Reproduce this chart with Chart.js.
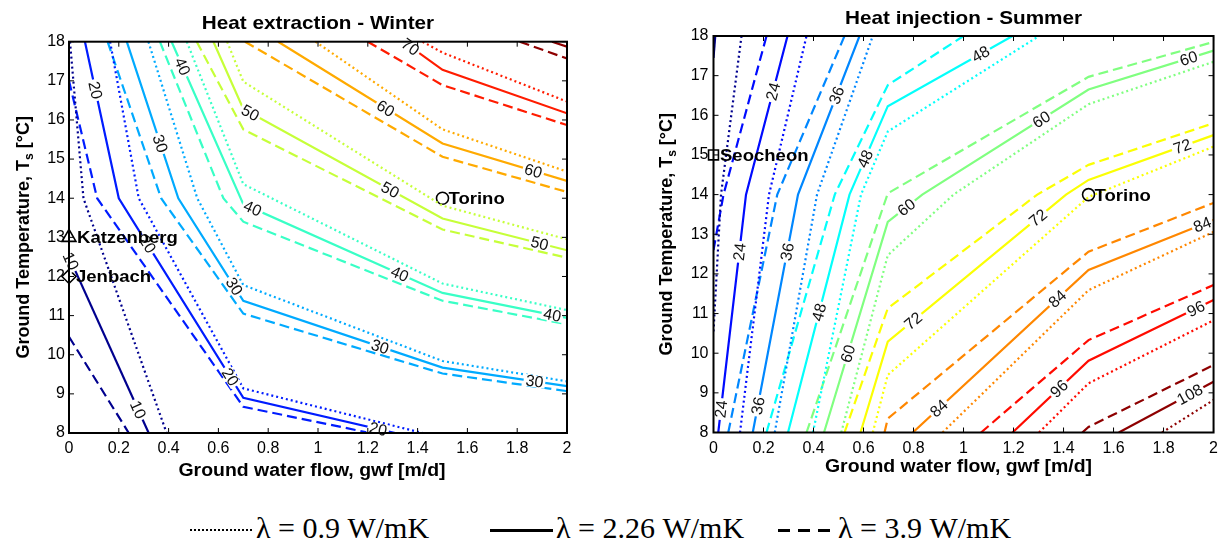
<!DOCTYPE html>
<html><head><meta charset="utf-8">
<script src="https://cdn.jsdelivr.net/npm/chart.js@4.4.0/dist/chart.umd.min.js"></script>
<style>
html,body{margin:0;padding:0;background:#fff;width:1224px;height:547px;overflow:hidden;}
#wrap{position:relative;width:1224px;height:547px;background:#fff;}
canvas{position:absolute;top:0;}
.leg{position:absolute;top:513px;font-family:"Liberation Serif","Times New Roman",serif;font-size:30px;line-height:30px;white-space:nowrap;color:#000;}
.smp{position:absolute;}
</style></head><body>
<div id="wrap">
<canvas id="cw" width="600" height="490" style="left:0px;width:600px;height:490px"></canvas>
<canvas id="cs" width="584" height="490" style="left:640px;width:584px;height:490px"></canvas>
<div class="smp" style="left:190px;top:529px;width:62px;height:0;border-top:2px dotted #000"></div>
<div class="leg" style="left:256px">λ = 0.9 W/mK</div>
<div class="smp" style="left:490px;top:529px;width:63px;height:3px;background:#000"></div>
<div class="leg" style="left:556px">λ = 2.26 W/mK</div>
<div class="smp" style="left:778px;top:529px;width:52px;height:3px;background:repeating-linear-gradient(90deg,#000 0 12px,transparent 12px 20px)"></div>
<div class="leg" style="left:838px">λ = 3.9 W/mK</div>
</div>
<script>
// ---------------- DATA ----------------
// shared ticks
const xTickValues = [0,0.2,0.4,0.6,0.8,1,1.2,1.4,1.6,1.8,2];
const yTickValues = [8,9,10,11,12,13,14,15,16,17,18];

// Winter (heat extraction) contour levels and polylines [gwf, Ts]
const winterLevels = [10,20,30,40,50,60,70,80];
const winterDotted = [ // lambda = 0.9 W/mK
  [[0.004,18],[0.058,14],[0.392,8]],
  [[0.165,18],[0.28,14],[0.7,9.14],[1.42,8]],
  [[0.319,18],[0.515,14],[0.7,11.78],[1.5,9.84],[2,9.32]],
  [[0.473,18],[0.7,14.36],[1.5,11.82],[2,11.14]],
  [[0.635,18],[0.7,16.98],[1.5,13.81],[2,12.95]],
  [[0.99,18],[1.5,15.76],[2,14.68]],
  [[1.42,18],[1.5,17.72],[2,16.47]],
  []
];
const winterSolid = [ // lambda = 2.26 W/mK
  [[0,12.5],[0.32,8]],
  [[0.064,18],[0.2,14],[0.7,8.9],[1.31,8]],
  [[0.232,18],[0.439,14],[0.7,11.38],[1.5,9.67],[2,9.2]],
  [[0.412,18],[0.7,13.85],[1.5,11.58],[2,10.94]],
  [[0.58,18],[0.7,16.28],[1.5,13.48],[2,12.67]],
  [[0.84,18],[1.5,15.4],[2,14.44]],
  [[1.343,18],[1.5,17.28],[2,16.17]],
  [[1.94,18],[2,17.87]]
];
const winterDashed = [ // lambda = 3.9 W/mK
  [[0,10.46],[0.24,8]],
  [[0,17.0],[0.113,14],[0.7,8.67],[1.21,8]],
  [[0.155,18],[0.37,14],[0.7,11.05],[1.5,9.52],[2,9.07]],
  [[0.365,18],[0.62,14],[0.7,13.4],[1.5,11.38],[2,10.78]],
  [[0.513,18],[0.7,15.76],[1.5,13.2],[2,12.48]],
  [[0.707,18],[1.5,15.06],[2,14.16]],
  [[1.2,18],[1.5,16.89],[2,15.87]],
  [[1.81,18],[2,17.57]]
];
const winterLabels = [ // [gwf, Ts, level]
  [0.017,12.42,10],[0.272,8.58,10],
  [0.106,16.76,20],[0.319,12.84,20],[0.647,9.43,20],[1.242,8.11,20],
  [0.367,15.4,30],[0.66,11.73,30],[1.249,10.2,30],[1.87,9.35,30],
  [0.452,17.36,40],[0.74,13.78,40],[1.329,12.08,40],[1.94,10.98,40],
  [0.727,16.17,50],[1.289,14.2,50],[1.89,12.85,50],
  [1.276,16.34,60],[1.865,14.7,60],
  [1.369,17.85,70]
];
const winterSiteNames = ["Katzenberg","Jenbach","Torino"];
const winterSiteGwf = [0,0,1.5];
const winterSiteTs = [13,12,14];

// Summer (heat injection)
const summerLevels = [12,24,36,48,60,72,84,96,108];
const summerDotted = [
  [[0,10.55],[0.03,14],[0.112,18]],
  [[0.106,8],[0.222,14],[0.372,18]],
  [[0.245,8],[0.414,14],[0.637,18]],
  [[0.398,8],[0.59,14],[0.697,15.59],[1.302,18]],
  [[0.511,8],[0.697,12.47],[0.96,14],[1.5,16.28],[2,17.35]],
  [[0.637,8],[0.697,9.45],[1.5,13.94],[2,15.21]],
  [[0.916,8],[1.5,11.59],[2,13.06]],
  [[1.302,8],[1.5,9.24],[2,10.83]],
  [[1.794,8],[2,8.82]]
];
const summerSolid = [
  [[0,17.45],[0.007,18]],
  [[0.019,8],[0.13,14],[0.296,18]],
  [[0.157,8],[0.338,14],[0.584,18]],
  [[0.298,8],[0.544,14],[0.697,16.23],[1.196,18]],
  [[0.442,8],[0.697,13.31],[0.835,14],[1.5,16.65],[2,17.63]],
  [[0.588,8],[0.697,10.29],[1.41,14],[1.5,14.37],[2,15.5]],
  [[0.797,8],[1.5,12.1],[2,13.36]],
  [[1.196,8],[1.5,9.81],[2,11.34]],
  [[1.621,8],[2,9.28]]
];
const summerDashed = [
  [],
  [[0,12.6],[0.04,14],[0.212,18]],
  [[0.059,8],[0.255,14],[0.524,18]],
  [[0.212,8],[0.485,14],[0.697,16.76],[1.0,18]],
  [[0.372,8],[0.697,14.03],[1.5,16.97],[2,17.85]],
  [[0.524,8],[0.697,11.13],[1.295,14],[1.5,14.75],[2,15.8]],
  [[0.684,8],[0.697,8.35],[1.5,12.56],[2,13.79]],
  [[1.07,8],[1.5,10.33],[2,11.72]],
  [[1.475,8],[1.5,8.14],[2,9.7]]
];
const summerLabels = [
  [0.238,16.6,24],[0.099,12.56,24],[0.019,8.6,24],
  [0.491,16.51,36],[0.292,12.56,36],[0.166,8.69,36],
  [0.604,14.91,48],[0.418,11.04,48],[1.063,17.6,48],
  [0.77,13.69,60],[1.309,15.92,60],[1.9,17.44,60],[0.538,9.99,60],
  [1.295,13.44,72],[1.873,15.25,72],[0.79,10.88,72],
  [0.89,8.69,84],[1.369,11.42,84],[1.947,13.37,84],
  [1.369,9.19,96],[1.927,11.15,96],
  [1.9,9.02,108]
];
const summerSiteNames = ["Seocheon","Torino"];
const summerSiteGwf = [0,1.5];
const summerSiteTs = [15,14];

// ---------------- STYLE ----------------
const SANS = '"Liberation Sans", Arial, Helvetica, sans-serif';
const siteStyle = {Katzenberg:['triangle',8,8], Jenbach:['rectRot',7,7], Torino:['circle',6,6], Seocheon:['rect',7,6.5]};
function jet(t){
  const c=v=>Math.round(255*Math.max(0,Math.min(1,v)));
  return `rgb(${c(1.5-Math.abs(4*t-3))},${c(1.5-Math.abs(4*t-2))},${c(1.5-Math.abs(4*t-1))})`;
}
function levelColor(i,n){ return jet(0.014 + 0.972*i/(n-1)); }

function buildDatasets(levels, dotted, solid, dashed, names, gx, ty){
  const ds=[];
  levels.forEach((L,i)=>{
    const col=levelColor(i,levels.length);
    [[dotted,[2,3]],[solid,[]],[dashed,[10,5]]].forEach(([arr,dash])=>{
      const pts=arr[i];
      if(!pts||!pts.length) return;
      ds.push({data:pts.map(p=>({x:p[0],y:p[1]})),borderColor:col,borderWidth:2.2,borderDash:dash,
        pointRadius:0,pointHoverRadius:0,fill:false,tension:0,showLine:true});
    });
  });
  ds.push({data:names.map((n,k)=>({x:gx[k],y:ty[k]})),showLine:false,clip:false,
    pointStyle:names.map(n=>siteStyle[n][0]),pointRadius:names.map(n=>siteStyle[n][1]),
    pointBorderColor:'#000',pointBackgroundColor:'rgba(0,0,0,0)',pointBorderWidth:1.6});
  return ds;
}

function sText(ctx,txt,x,y,font,sx,align){
  ctx.save(); ctx.font=font; ctx.translate(x,y); ctx.scale(sx,1);
  ctx.textAlign=align; ctx.textBaseline='alphabetic'; ctx.fillStyle='#000'; ctx.fillText(txt,0,0); ctx.restore();
}

const decor = {
  id:'decor',
  afterDatasetsDraw(chart,args,o){
    const {ctx,scales:{x,y}}=chart;
    o.labels.forEach(([g,T,L])=>{
      const i=o.levels.indexOf(L);
      const poly=o.solid[i].map(p=>[x.getPixelForValue(p[0]),y.getPixelForValue(p[1])]);
      const px=x.getPixelForValue(g), py=y.getPixelForValue(T);
      let best=null;
      for(let k=0;k<poly.length-1;k++){
        const [ax,ay]=poly[k],[bx,by]=poly[k+1];
        const dx=bx-ax,dy=by-ay,len2=dx*dx+dy*dy;
        let t=((px-ax)*dx+(py-ay)*dy)/len2; t=Math.max(0,Math.min(1,t));
        const qx=ax+t*dx,qy=ay+t*dy,d=(qx-px)**2+(qy-py)**2;
        if(!best||d<best.d) best={d,qx,qy,ang:Math.atan2(dy,dx)};
      }
      let a=best.ang; if(a>Math.PI/2)a-=Math.PI; if(a<-Math.PI/2)a+=Math.PI;
      ctx.save(); ctx.translate(best.qx,best.qy); ctx.rotate(a);
      ctx.font='16px '+SANS;
      const w=ctx.measureText(String(L)).width;
      ctx.fillStyle='#fff'; ctx.fillRect(-w/2-2,-6,w+4,12);
      ctx.fillStyle='#111'; ctx.textAlign='center'; ctx.textBaseline='middle'; ctx.fillText(String(L),0,1);
      ctx.restore();
    });
  },
  afterDraw(chart,args,o){
    const {ctx,chartArea:a,scales:{x,y}}=chart;
    ctx.save();
    ctx.strokeStyle='#000'; ctx.lineWidth=1;
    const ln=(x1,y1,x2,y2)=>{ctx.beginPath();ctx.moveTo(x1,y1);ctx.lineTo(x2,y2);ctx.stroke();};
    x.ticks.forEach(t=>{const p=x.getPixelForValue(t.value); ln(p,a.bottom,p,a.bottom-5); ln(p,a.top,p,a.top+5);});
    y.ticks.forEach(t=>{const p=y.getPixelForValue(t.value); ln(a.left,p,a.left+5,p); ln(a.right,p,a.right-5,p);});
    ctx.lineWidth=2; ctx.strokeRect(a.left,a.top,a.right-a.left,a.bottom-a.top);
    ctx.restore();
    const cx=(a.left+a.right)/2;
    sText(ctx,o.title,cx,o.titleY,'bold 19px '+SANS,1.09,'center');
    sText(ctx,'Ground water flow, gwf [m/d]',cx+o.xTitleDx,o.xTitleY,'bold 18px '+SANS,1.08,'center');
    // y title with subscript
    ctx.save();
    ctx.translate(o.yTitleX,(a.top+a.bottom)/2); ctx.rotate(-Math.PI/2);
    const f1='bold 18px '+SANS, f2='bold 12px '+SANS;
    const p1='Ground Temperature, T', p2='s', p3=' [°C]';
    ctx.font=f1; const w1=ctx.measureText(p1).width, w3=ctx.measureText(p3).width;
    ctx.font=f2; const w2=ctx.measureText(p2).width;
    let sx=-(w1+w2+w3)/2;
    ctx.fillStyle='#000'; ctx.textBaseline='alphabetic'; ctx.textAlign='left';
    ctx.font=f1; ctx.fillText(p1,sx,0); sx+=w1;
    ctx.font=f2; ctx.fillText(p2,sx,4); sx+=w2;
    ctx.font=f1; ctx.fillText(p3,sx,0);
    ctx.restore();
    // site names
    o.names.forEach((n,k)=>{
      const px=x.getPixelForValue(o.gx[k]), py=y.getPixelForValue(o.ty[k]);
      sText(ctx,n,px+siteStyle[n][2],py+6,'bold 17px '+SANS,1.09,'left');
    });
  }
};

function makeChart(id,cfg){
  return new Chart(document.getElementById(id),{
    type:'line',
    data:{datasets:buildDatasets(cfg.levels,cfg.dotted,cfg.solid,cfg.dashed,cfg.names,cfg.gx,cfg.ty)},
    options:{
      responsive:false, animation:false, devicePixelRatio:1,
      layout:{padding:{left:0,top:cfg.top,right:cfg.right,bottom:0}},
      plugins:{legend:{display:false},tooltip:{enabled:false},title:{display:false},
        decor:{levels:cfg.levels,solid:cfg.solid,labels:cfg.labels,title:cfg.title,titleY:cfg.titleY,
          xTitleY:cfg.xTitleY,xTitleDx:cfg.xTitleDx,yTitleX:cfg.yTitleX,names:cfg.names,gx:cfg.gx,ty:cfg.ty}},
      scales:{
        x:{type:'linear',min:0,max:2,
          afterBuildTicks:s=>{s.ticks=xTickValues.map(v=>({value:v}));},
          afterFit:s=>{s.height=cfg.xh;},
          grid:{display:false,drawTicks:false},border:{display:false},
          ticks:{autoSkip:false,maxRotation:0,padding:6,color:'#000',font:{family:SANS,size:16},
            callback:v=>String(Number(v.toFixed(1)))}},
        y:{type:'linear',min:8,max:18,
          afterBuildTicks:s=>{s.ticks=yTickValues.map(v=>({value:v}));},
          afterFit:s=>{s.width=cfg.yw;},
          grid:{display:false,drawTicks:false},border:{display:false},
          ticks:{padding:cfg.ypad,color:'#000',font:{family:SANS,size:16}}}
      }
    },
    plugins:[decor]
  });
}

makeChart('cw',{levels:winterLevels,dotted:winterDotted,solid:winterSolid,dashed:winterDashed,
  labels:winterLabels,names:winterSiteNames,gx:winterSiteGwf,ty:winterSiteTs,
  title:'Heat extraction - Winter',titleY:29,xTitleY:476,xTitleDx:-6,yTitleX:28.5,
  top:41.7,right:33,xh:57,yw:69,ypad:4});
makeChart('cs',{levels:summerLevels,dotted:summerDotted,solid:summerSolid,dashed:summerDashed,
  labels:summerLabels,names:summerSiteNames,gx:summerSiteGwf,ty:summerSiteTs,
  title:'Heat injection - Summer',titleY:23.5,xTitleY:472,xTitleDx:-5,yTitleX:31.7,
  top:36,right:9,xh:57.5,yw:73.5,ypad:5});
</script>
</body></html>
